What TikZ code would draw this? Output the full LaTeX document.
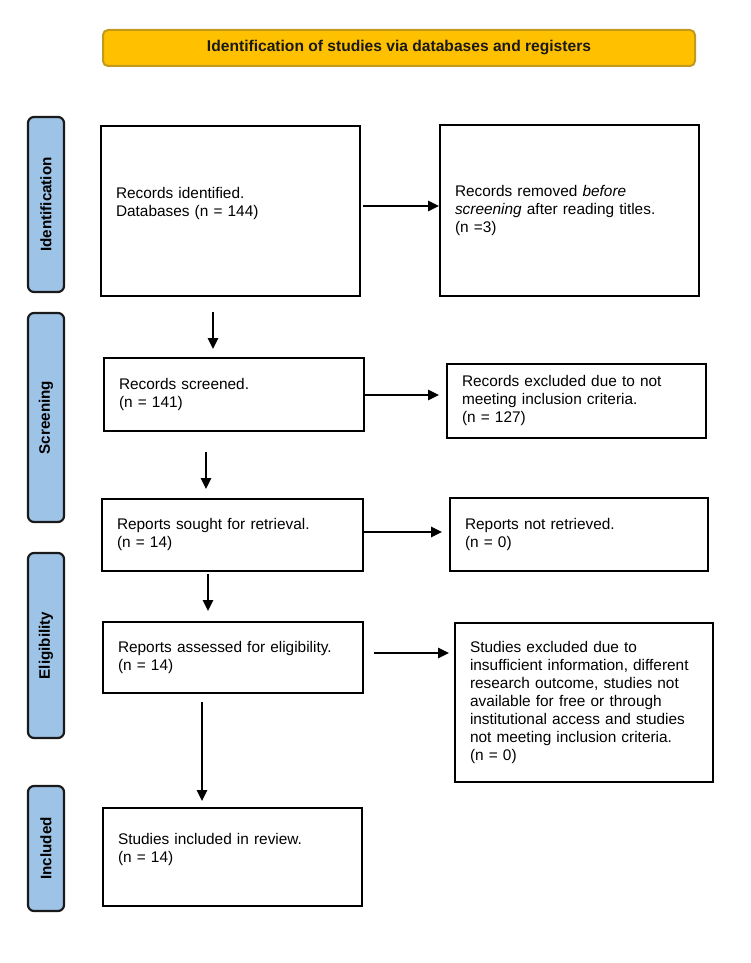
\documentclass[tikz,border=0pt]{standalone}
\usepackage{fontspec}
\setmainfont{Liberation Sans}
\usetikzlibrary{arrows.meta,calc}
\definecolor{hdrfill}{HTML}{FFC000}
\definecolor{hdrdraw}{HTML}{C29A1E}
\definecolor{tabfill}{HTML}{9DC3E6}
\definecolor{tabdraw}{HTML}{1A1A1A}
\begin{document}
\begin{tikzpicture}[x=1pt,y=-1pt,
  box/.style={draw=black,line width=2pt,rectangle,inner xsep=14pt,inner ysep=0pt,
    align=left,font=\fontsize{15.4}{18}\selectfont},
  tab/.style={draw=tabdraw,fill=tabfill,line width=2.2pt,rounded corners=6pt,
    minimum height=36pt,rotate=90,inner sep=0pt,
    font=\bfseries\fontsize{15.2}{18}\selectfont},
  hdr/.style={draw=hdrdraw,fill=hdrfill,line width=2pt,rounded corners=5pt,
    minimum width=592pt,minimum height=36pt,inner sep=0pt,text=black!90,
    font=\bfseries\fontsize{15.6}{18}\selectfont},
  arr/.style={line width=1.6pt,-{Triangle[length=11pt,width=10.5pt]}}]
\useasboundingbox (0,0) rectangle (750,963);
\fill[white] (0,0) rectangle (750,963);

% header
\node[hdr] (header) at (399,48) {Identification of studies via databases and registers};

% side tabs
\node[tab,minimum width=175pt] (tabid) at (46,204.5) {Identification};
\node[tab,minimum width=209pt] (tabscr) at (46,417.5) {Screening};
\node[tab,minimum width=185pt] (tabel) at (46,645.5) {Eligibility};
\node[tab,minimum width=125pt] (tabinc) at (46,848.5) {Included};

% boxes
\node[box,minimum width=259pt,minimum height=170pt,text width=229pt] (ident) at (230.5,211)
  {Records identified.\\Databases (n = 144)\\\mbox{}};
\node[box,minimum width=259pt,minimum height=171pt,text width=229pt] (removed) at (569.5,210.5)
  {Records removed \textit{before}\\\textit{screening} after reading titles.\\(n =3)};
\node[box,minimum width=260pt,minimum height=73pt,text width=230pt] (screened) at (234,394.5)
  {Records screened.\\(n = 141)};
\node[box,minimum width=259pt,minimum height=74pt,text width=229pt] (excluded) at (576.5,401)
  {Records excluded due to not\\meeting inclusion criteria.\\(n = 127)};
\node[box,minimum width=261pt,minimum height=72pt,text width=231pt] (sought) at (232.5,535)
  {Reports sought for retrieval.\\(n = 14)};
\node[box,minimum width=258pt,minimum height=73pt,text width=228pt] (notretr) at (579,534.5)
  {Reports not retrieved.\\(n = 0)};
\node[box,minimum width=260pt,minimum height=71pt,text width=230pt] (assessed) at (233,657.5)
  {Reports assessed for eligibility.\\(n = 14)};
\node[box,minimum width=258pt,minimum height=159pt,text width=228pt] (studexcl) at (584,702.5)
  {Studies excluded due to\\insufficient information, different\\research outcome, studies not\\available for free or through\\institutional access and studies\\not meeting inclusion criteria.\\(n = 0)};
\node[box,minimum width=259pt,minimum height=98pt,text width=229pt] (included) at (232.5,857)
  {Studies included in review.\\(n = 14)\\\mbox{}};

% horizontal arrows
\draw[arr] ([xshift=2pt,yshift=5pt]ident.east) -- ([yshift=4.5pt]removed.west);
\draw[arr] ([yshift=-0.5pt]screened.east) -- ([xshift=-7pt,yshift=6pt]excluded.west);
\draw[arr] ([yshift=3pt]sought.east) -- ([xshift=-7pt,yshift=2.5pt]notretr.west);
\draw[arr] ([xshift=10pt,yshift=4.5pt]assessed.east) -- ([xshift=-5pt,yshift=49.5pt]studexcl.west);

% vertical arrows
\draw[arr] ([xshift=-17.5pt,yshift=-15pt]ident.south) -- ([xshift=-21pt,yshift=8pt]screened.north);
\draw[arr] ([xshift=-28pt,yshift=-20pt]screened.south) -- ([xshift=-26.5pt,yshift=9pt]sought.north);
\draw[arr] ([xshift=-24.5pt,yshift=-2pt]sought.south) -- ([xshift=-25pt,yshift=10pt]assessed.north);
\draw[arr] ([xshift=-31pt,yshift=-8pt]assessed.south) -- ([xshift=-30.5pt,yshift=6pt]included.north);
\end{tikzpicture}
\end{document}
